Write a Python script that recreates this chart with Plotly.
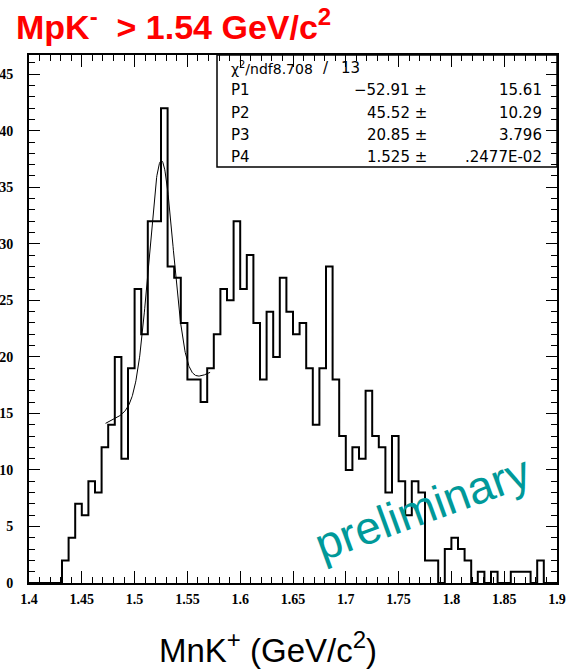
import numpy as np
import plotly.graph_objects as go

# ---- data ----
bin_lo = 1.4
bin_width = 0.00625
counts = [0, 0, 0, 0, 0, 2, 4, 7, 6, 9,
          8, 12, 14, 20, 11, 19, 26, 22, 32, 32,
          42, 28, 27, 23, 18, 18, 16, 19, 22, 26,
          25, 32, 26, 29, 23, 18, 24, 20, 27, 24,
          22, 23, 19, 14, 19, 28, 18, 13, 10, 12,
          11, 17, 13, 12, 8, 13, 9, 6, 9, 8,
          2, 2, 0, 3, 4, 3, 2, 0, 1, 0,
          1, 0, 0, 1, 1, 1, 0, 2, 0, 0]

# fit: P1 + P2*x + P3*gaus(x; P4, sigma)
fit_params = [-52.91, 45.52, 20.85, 1.525]
fit_errors = ["15.61", "10.29", "3.796", ".2477E-02"]
fit_values = ["\u221252.91", "45.52", "20.85", "1.525"]
fit_sigma = 0.0115
fit_range = [1.4725, 1.5715]
chi2, ndf = "8.708", "13"

x_tickvals = [1.4, 1.45, 1.5, 1.55, 1.6, 1.65, 1.7, 1.75, 1.8, 1.85, 1.9]
x_ticktext = ["1.4", "1.45", "1.5", "1.55", "1.6", "1.65", "1.7", "1.75", "1.8", "1.85", "1.9"]
y_tickvals = [0, 5, 10, 15, 20, 25, 30, 35, 40, 45]

# ---- build ----
edges = [bin_lo + i * bin_width for i in range(len(counts) + 1)]
step_y = counts + [counts[-1]]

P1, P2, P3, P4 = fit_params
xf = np.linspace(fit_range[0], fit_range[1], 300)
yf = P1 + P2 * xf + P3 * np.exp(-0.5 * ((xf - P4) / fit_sigma) ** 2)

fig = go.Figure()
fig.add_trace(go.Scatter(x=edges, y=step_y, mode="lines", line=dict(shape="hv", color="black", width=2),
                         hoverinfo="skip"))
fig.add_trace(go.Scatter(x=xf, y=yf, mode="lines", line=dict(color="black", width=1), hoverinfo="skip"))

L, R, T, B = 29, 9, 55, 88
W, H = 566, 671
pw, ph = W - L - R, H - T - B

def px(xp):
    return (xp - L) / pw

def py(yp):
    return (H - B - yp) / ph

tickfont = dict(family="Liberation Serif", size=14, color="black", weight="bold")
fig.update_xaxes(range=[1.4, 1.9], tickvals=x_tickvals, ticktext=x_ticktext, ticks="inside", ticklen=12,
                 tickwidth=1, tickcolor="black", showline=True, linecolor="black", linewidth=2, mirror="ticks",
                 showgrid=False, zeroline=False, tickfont=tickfont, ticklabelstandoff=2,
                 minor=dict(dtick=0.01, tick0=1.4, ticks="inside", ticklen=6, tickcolor="black", tickwidth=1,
                            showgrid=False))
fig.update_yaxes(range=[0, 46.7], tickvals=y_tickvals, ticks="inside", ticklen=11, tickwidth=1,
                 tickcolor="black", showline=True, linecolor="black", linewidth=2, mirror="ticks",
                 showgrid=False, zeroline=False, tickfont=tickfont, ticklabelstandoff=11,
                 minor=dict(dtick=1, tick0=0, ticks="inside", ticklen=6, tickcolor="black", tickwidth=1,
                            showgrid=False))

# stats box
fig.add_shape(type="rect", xref="paper", yref="paper", x0=px(217), x1=1, y0=py(167), y1=1,
              line=dict(color="black", width=1.5), fillcolor="rgba(0,0,0,0)")

sfont = dict(family="DejaVu Sans", size=15, color="black")
rows_y = [68, 90, 113, 135, 157]
fig.add_annotation(xref="paper", yref="paper", x=px(229), y=py(rows_y[0]), xanchor="left", yanchor="middle",
                   text="\u03c7<sup>2</sup>/ndf" + chi2, showarrow=False,
                   font=dict(family="DejaVu Sans", size=14, color="black"))
fig.add_annotation(xref="paper", yref="paper", x=px(326), y=py(rows_y[0]), xanchor="center", yanchor="middle",
                   text="/", showarrow=False, font=sfont)
fig.add_annotation(xref="paper", yref="paper", x=px(362), y=py(rows_y[0]), xanchor="right", yanchor="middle",
                   text=ndf, showarrow=False, font=sfont)
for i in range(4):
    yy = py(rows_y[i + 1])
    fig.add_annotation(xref="paper", yref="paper", x=px(229), y=yy, xanchor="left", yanchor="middle",
                       text="P%d" % (i + 1), showarrow=False, font=sfont)
    fig.add_annotation(xref="paper", yref="paper", x=px(429), y=yy, xanchor="right", yanchor="middle",
                       text=fit_values[i] + " \u00b1", showarrow=False, font=sfont)
    fig.add_annotation(xref="paper", yref="paper", x=px(544), y=yy, xanchor="right", yanchor="middle",
                       text=fit_errors[i], showarrow=False, font=sfont)

# title
fig.add_annotation(xref="paper", yref="paper", x=px(14), y=py(24), xanchor="left", yanchor="middle",
                   text="<b>MpK<sup><span style='font-size:24px'>-</span></sup>  > 1.54 GeV/c"
                        "<sup><span style='font-size:24px'>2</span></sup></b>", showarrow=False,
                   font=dict(family="Liberation Sans", size=34, color="#ff0000"))
# x axis title
fig.add_annotation(xref="paper", yref="paper", x=px(268), y=py(647), xanchor="center", yanchor="middle",
                   text="MnK<sup><span style='font-size:24px'>+</span></sup> (GeV/c"
                        "<sup><span style='font-size:24px'>2</span></sup>)", showarrow=False,
                   font=dict(family="Liberation Sans", size=33, color="black"))
# preliminary
fig.add_annotation(xref="paper", yref="paper", x=px(422), y=py(508), xanchor="center", yanchor="middle",
                   text="preliminary", textangle=-20, showarrow=False,
                   font=dict(family="Liberation Sans", size=46, color="#009999"))

fig.update_layout(width=W, height=H, margin=dict(l=L, r=R, t=T, b=B, autoexpand=False),
                  plot_bgcolor="white", paper_bgcolor="white", showlegend=False)

fig.write_html("out.html")
